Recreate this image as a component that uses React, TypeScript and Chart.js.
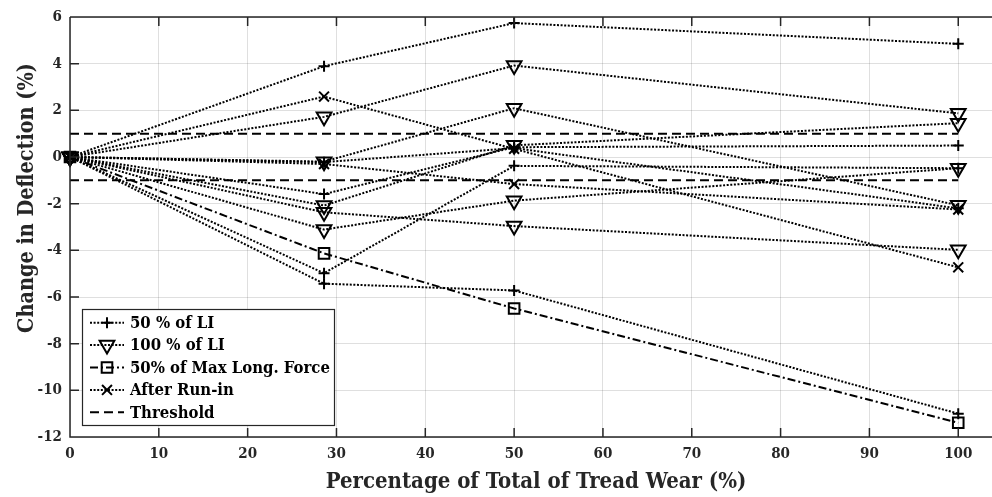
import React, { useEffect, useRef } from 'react';
import { Chart, registerables } from 'chart.js';

Chart.register(...registerables);

// Tread wear levels (% of total) at which deflection was measured
const wearPct = [0, 28.6, 50, 100];

// 50 % of LI
const halfLoad1 = [0, 3.89, 5.74, 4.85];
const halfLoad2 = [0, -1.59, 0.42, 0.49];
const halfLoad3 = [0, -4.98, -0.38, -0.48];
const halfLoad4 = [0, -5.43, -5.72, -11.0];
const halfLoad5 = [0, -0.22, 0.38, -2.2];

// 100 % of LI
const fullLoad1 = [0, 1.72, 3.92, 1.87];
const fullLoad2 = [0, -0.2, 2.09, -2.07];
const fullLoad3 = [0, -2.08, 0.5, 1.45];
const fullLoad4 = [0, -3.11, -1.87, -0.48];
const fullLoad5 = [0, -2.37, -2.96, -3.98];

// 50% of Max Long. Force
const longForce = [0, -4.13, -6.49, -11.39];

// After Run-in
const runIn1 = [0, 2.59, 0.35, -4.73];
const runIn2 = [0, -0.3, -1.16, -2.25];

// Threshold band
const thresholdLevels = [1, -1];
const thresholdSpan = [0, 100];

const xTickValues = [0, 10, 20, 30, 40, 50, 60, 70, 80, 90, 100];
const yTickValues = [-12, -10, -8, -6, -4, -2, 0, 2, 4, 6];

const xTitle = 'Percentage of Total of Tread Wear (%)';
const yTitle = 'Change in Deflection (%)';
const legendLabels = ['50 % of LI', '100 % of LI', '50% of Max Long. Force', 'After Run-in', 'Threshold'];

const INK = '#000000';
const AXIS = '#262626';
const FONT = '"DejaVu Serif Condensed", "DejaVu Serif", serif';

const DOT = [2, 1.6];
const DASH_DOT = [8, 3, 2, 3];
const DASH = [9, 5];

type Kind = 'plus' | 'tri' | 'square' | 'cross';

const markerStyle: Record<Kind, any> = {
  plus: { pointStyle: 'cross', pointRadius: 5.5, pointRotation: 0, dash: DOT },
  tri: { pointStyle: 'triangle', pointRadius: 8.5, pointRotation: 180, dash: DOT },
  square: { pointStyle: 'rect', pointRadius: 7.5, pointRotation: 0, dash: DASH_DOT },
  cross: { pointStyle: 'crossRot', pointRadius: 7, pointRotation: 0, dash: DOT },
};

const toPoints = (vals: number[]) => wearPct.map((x, i) => ({ x, y: vals[i] }));

const seriesDataset = (label: string, vals: number[], kind: Kind) => {
  const m = markerStyle[kind];
  return {
    label,
    data: toPoints(vals),
    borderColor: INK,
    borderWidth: 2,
    borderDash: m.dash,
    borderCapStyle: 'butt',
    pointStyle: m.pointStyle,
    pointRadius: m.pointRadius,
    pointRotation: m.pointRotation,
    pointBorderColor: INK,
    pointBorderWidth: 2,
    pointBackgroundColor: 'rgba(0,0,0,0)',
    pointHoverRadius: m.pointRadius,
    tension: 0,
    fill: false,
    clip: false,
  };
};

const thresholdDataset = (level: number) => ({
  label: 'Threshold',
  data: thresholdSpan.map((x) => ({ x, y: level })),
  borderColor: INK,
  borderWidth: 2,
  borderDash: DASH,
  borderCapStyle: 'butt',
  pointRadius: 0,
  pointHoverRadius: 0,
  fill: false,
  clip: false,
});

// font size that makes `text` span `target` pixels
function fittedSize(ctx: CanvasRenderingContext2D, text: string, target: number) {
  ctx.font = `bold 20px ${FONT}`;
  return (20 * target) / ctx.measureText(text).width;
}

function drawMarker(ctx: CanvasRenderingContext2D, kind: Kind, x: number, y: number) {
  const r = markerStyle[kind].pointRadius;
  ctx.beginPath();
  if (kind === 'plus') {
    ctx.moveTo(x - r, y);
    ctx.lineTo(x + r, y);
    ctx.moveTo(x, y - r);
    ctx.lineTo(x, y + r);
  } else if (kind === 'cross') {
    const d = r * Math.SQRT1_2;
    ctx.moveTo(x - d, y - d);
    ctx.lineTo(x + d, y + d);
    ctx.moveTo(x - d, y + d);
    ctx.lineTo(x + d, y - d);
  } else if (kind === 'square') {
    const s = r * Math.SQRT1_2;
    ctx.rect(x - s, y - s, 2 * s, 2 * s);
  } else {
    for (let k = 0; k < 3; k++) {
      const a = Math.PI + (k * 2 * Math.PI) / 3;
      const px = x + Math.sin(a) * r;
      const py = y - Math.cos(a) * r;
      if (k === 0) ctx.moveTo(px, py);
      else ctx.lineTo(px, py);
    }
    ctx.closePath();
  }
  ctx.stroke();
}

// Inward ticks, box frame and axis titles
const framePlugin = {
  id: 'frame',
  afterDatasetsDraw(chart: any) {
    const { ctx, chartArea: a, scales } = chart;
    const xs = scales.x;
    const ys = scales.y;
    const tick = 9;
    ctx.save();
    ctx.strokeStyle = AXIS;
    ctx.lineWidth = 1.5;
    ctx.setLineDash([]);
    ctx.beginPath();
    xs.ticks.forEach((t: any) => {
      const px = xs.getPixelForValue(t.value);
      ctx.moveTo(px, a.bottom);
      ctx.lineTo(px, a.bottom - tick);
      ctx.moveTo(px, a.top);
      ctx.lineTo(px, a.top + tick);
    });
    ys.ticks.forEach((t: any) => {
      const py = ys.getPixelForValue(t.value);
      ctx.moveTo(a.left, py);
      ctx.lineTo(a.left + tick, py);
    });
    ctx.moveTo(a.left, a.top);
    ctx.lineTo(a.right, a.top);
    ctx.moveTo(a.left, a.top);
    ctx.lineTo(a.left, a.bottom);
    ctx.lineTo(a.right, a.bottom);
    ctx.stroke();

    ctx.fillStyle = '#262626';
    ctx.textAlign = 'center';
    ctx.textBaseline = 'alphabetic';
    const xs1 = fittedSize(ctx, xTitle, 421);
    ctx.font = `bold ${xs1}px ${FONT}`;
    ctx.fillText(xTitle, 536, 488);

    const ys1 = fittedSize(ctx, yTitle, 270);
    ctx.font = `bold ${ys1}px ${FONT}`;
    ctx.translate(33, 198);
    ctx.rotate(-Math.PI / 2);
    ctx.fillText(yTitle, 0, 0);
    ctx.restore();
  },
};

// Legend box in the lower-left corner of the plot
const legendPlugin = {
  id: 'boxLegend',
  afterDraw(chart: any) {
    const { ctx } = chart;
    const box = { x: 82.5, y: 309.5, w: 252, h: 116 };
    const kinds: (Kind | null)[] = ['plus', 'tri', 'square', 'cross', null];
    const rowH = 22.4;
    const firstRow = 322.7;
    ctx.save();
    ctx.fillStyle = '#ffffff';
    ctx.fillRect(box.x, box.y, box.w, box.h);
    ctx.strokeStyle = AXIS;
    ctx.lineWidth = 1.2;
    ctx.setLineDash([]);
    ctx.strokeRect(box.x, box.y, box.w, box.h);

    const size = fittedSize(ctx, legendLabels[2], 200);
    legendLabels.forEach((label, i) => {
      const cy = firstRow + i * rowH;
      const kind = kinds[i];
      ctx.strokeStyle = INK;
      ctx.lineWidth = 2;
      ctx.lineCap = 'butt';
      ctx.setLineDash(kind ? markerStyle[kind].dash : DASH);
      ctx.beginPath();
      ctx.moveTo(90, cy);
      ctx.lineTo(124, cy);
      ctx.stroke();
      if (kind) {
        ctx.setLineDash([]);
        drawMarker(ctx, kind, 107, cy);
      }
      ctx.fillStyle = '#000000';
      ctx.font = `bold ${size}px ${FONT}`;
      ctx.textAlign = 'left';
      ctx.textBaseline = 'middle';
      ctx.fillText(label, 130, cy + 1);
    });
    ctx.restore();
  },
};

export default function App() {
  const canvasRef = useRef<HTMLCanvasElement>(null);

  useEffect(() => {
    const datasets: any[] = [
      seriesDataset('50 % of LI', halfLoad1, 'plus'),
      seriesDataset('50 % of LI', halfLoad2, 'plus'),
      seriesDataset('50 % of LI', halfLoad3, 'plus'),
      seriesDataset('50 % of LI', halfLoad4, 'plus'),
      seriesDataset('50 % of LI', halfLoad5, 'plus'),
      seriesDataset('100 % of LI', fullLoad1, 'tri'),
      seriesDataset('100 % of LI', fullLoad2, 'tri'),
      seriesDataset('100 % of LI', fullLoad3, 'tri'),
      seriesDataset('100 % of LI', fullLoad4, 'tri'),
      seriesDataset('100 % of LI', fullLoad5, 'tri'),
      seriesDataset('50% of Max Long. Force', longForce, 'square'),
      seriesDataset('After Run-in', runIn1, 'cross'),
      seriesDataset('After Run-in', runIn2, 'cross'),
      ...thresholdLevels.map(thresholdDataset),
    ];

    const chart = new Chart(canvasRef.current as HTMLCanvasElement, {
      type: 'line',
      data: { datasets },
      options: {
        animation: false,
        responsive: false,
        devicePixelRatio: 1,
        events: [],
        layout: { autoPadding: false, padding: { top: 13, right: 0, left: 0, bottom: 0 } },
        plugins: {
          legend: { display: false },
          tooltip: { enabled: false },
          title: { display: false },
        },
        scales: {
          x: {
            type: 'linear',
            min: 0,
            max: 103.8,
            afterBuildTicks: (scale: any) => {
              scale.ticks = xTickValues.map((value) => ({ value }));
            },
            afterFit: (scale: any) => {
              scale.height = 60;
              scale.paddingRight = 0;
            },
            ticks: {
              autoSkip: false,
              maxRotation: 0,
              padding: 8,
              color: '#262626',
              font: { family: FONT, size: 15, weight: 'bold' },
            },
            grid: { color: 'rgba(38,38,38,0.15)', lineWidth: 1, drawTicks: false },
            border: { display: false },
          },
          y: {
            type: 'linear',
            min: -12,
            max: 6,
            afterBuildTicks: (scale: any) => {
              scale.ticks = yTickValues.map((value) => ({ value }));
            },
            afterFit: (scale: any) => {
              scale.width = 70;
            },
            ticks: {
              autoSkip: false,
              padding: 8,
              color: '#262626',
              font: { family: FONT, size: 15, weight: 'bold' },
            },
            grid: { color: 'rgba(38,38,38,0.15)', lineWidth: 1, drawTicks: false },
            border: { display: false },
          },
        },
      },
      plugins: [framePlugin, legendPlugin],
    } as any);

    return () => chart.destroy();
  }, []);

  return (
    <div style={{ position: 'fixed', left: 0, top: 0, width: 992, height: 497, background: '#ffffff' }}>
      <canvas ref={canvasRef} width={992} height={497} style={{ display: 'block' }} />
    </div>
  );
}
